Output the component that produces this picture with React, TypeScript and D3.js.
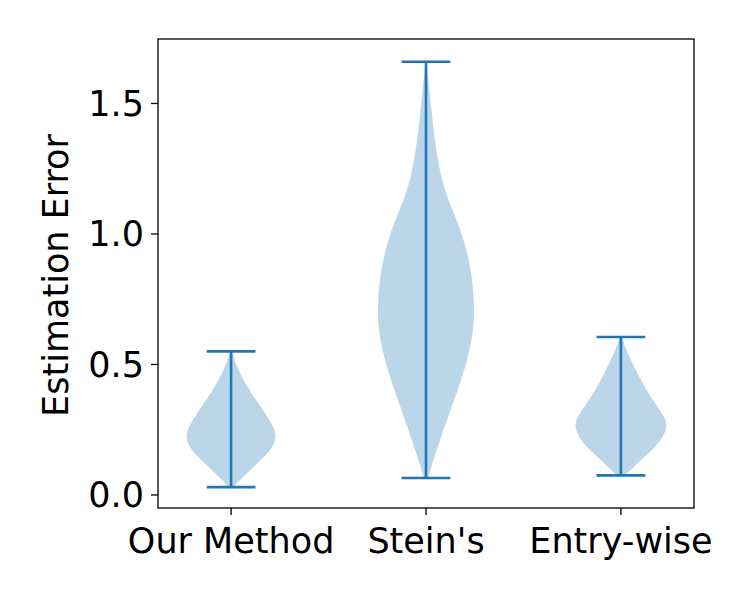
import * as d3 from "d3";

const categories = ["Our Method", "Stein's", "Entry-wise"];
// density profiles: [value, relative half-width]
const ourMethod: [number, number][] = [
  [0.03, 0.04], [0.08, 0.3], [0.15, 0.72], [0.22, 1.0], [0.3, 0.75],
  [0.38, 0.45], [0.45, 0.22], [0.51, 0.08], [0.55, 0.02],
];
const steins: [number, number][] = [
  [0.065, 0.04], [0.15, 0.18], [0.3, 0.45], [0.45, 0.75], [0.6, 0.96],
  [0.7, 1.0], [0.85, 0.95], [1.0, 0.75], [1.1, 0.52], [1.2, 0.32],
  [1.35, 0.18], [1.5, 0.1], [1.6, 0.04], [1.66, 0.01],
];
const entryWise: [number, number][] = [
  [0.075, 0.08], [0.15, 0.5], [0.2, 0.8], [0.27, 1.0], [0.33, 0.78],
  [0.4, 0.52], [0.48, 0.3], [0.55, 0.12], [0.605, 0.02],
];
const series = [ourMethod, steins, entryWise];
const yTicks = [0.0, 0.5, 1.0, 1.5];

const W = 750, H = 600;
const m = { left: 158, right: 694, top: 39, bottom: 508 };
const blue = "#1f77b4";

export default function App() {
  const x = d3.scaleLinear().domain([0.625, 3.375]).range([m.left, m.right]);
  const y = d3.scaleLinear().domain([-0.05, 1.747]).range([m.bottom, m.top]);
  const half = x(1.25) - x(1);
  const cap = x(1.125) - x(1);
  const font = "DejaVu Sans, sans-serif";
  const fs = 35;

  return (
    <svg width={W} height={H} style={{ position: "absolute", left: 0, top: 0, background: "#fff" }}>
      {series.map((s, i) => {
        const cx = x(i + 1);
        const area = d3.area<[number, number]>()
          .y(d => y(d[0]))
          .x0(d => cx - d[1] * half)
          .x1(d => cx + d[1] * half)
          .curve(d3.curveBasis);
        const lo = s[0][0], hi = s[s.length - 1][0];
        return (
          <g key={i}>
            <path d={area(s) ?? ""} fill={blue} fillOpacity={0.3} />
            <line x1={cx} x2={cx} y1={y(lo)} y2={y(hi)} stroke={blue} strokeWidth={2.6} />
            <line x1={cx - cap} x2={cx + cap} y1={y(lo)} y2={y(lo)} stroke={blue} strokeWidth={2.6} />
            <line x1={cx - cap} x2={cx + cap} y1={y(hi)} y2={y(hi)} stroke={blue} strokeWidth={2.6} />
          </g>
        );
      })}
      <rect x={m.left} y={m.top} width={m.right - m.left} height={m.bottom - m.top}
        fill="none" stroke="#000" strokeWidth={1.3} />
      {yTicks.map(t => (
        <g key={t}>
          <line x1={m.left - 7} x2={m.left} y1={y(t)} y2={y(t)} stroke="#000" strokeWidth={1.3} />
          <text x={m.left - 14} y={y(t)} dy="0.35em" textAnchor="end" fontSize={fs} fontFamily={font}>
            {t.toFixed(1)}
          </text>
        </g>
      ))}
      {categories.map((c, i) => (
        <g key={c}>
          <line x1={x(i + 1)} x2={x(i + 1)} y1={m.bottom} y2={m.bottom + 7} stroke="#000" strokeWidth={1.3} />
          <text x={x(i + 1)} y={m.bottom + 45} textAnchor="middle" fontSize={fs} fontFamily={font}>{c}</text>
        </g>
      ))}
      <text transform={`translate(68,${(m.top + m.bottom) / 2 + 2}) rotate(-90)`} textAnchor="middle"
        fontSize={fs} fontFamily={font}>Estimation Error</text>
    </svg>
  );
}
